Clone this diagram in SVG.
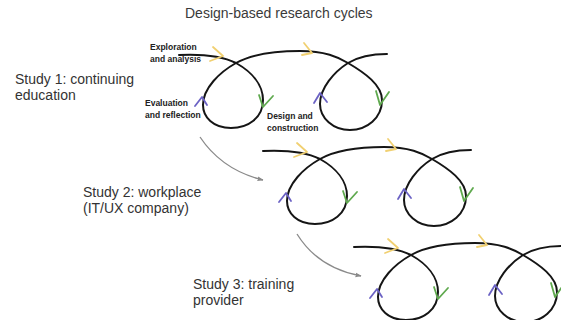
<svg xmlns="http://www.w3.org/2000/svg" xmlns:xlink="http://www.w3.org/1999/xlink" width="561" height="320" viewBox="0 0 561 320">
  <style>
    .title { font-family: "Liberation Sans", Arial, sans-serif; font-size: 14px; fill: #3a3a3a; }
    .study { font-family: "Liberation Sans", Arial, sans-serif; font-size: 14px; fill: #333; }
    .phase { font-family: "Liberation Sans", Arial, sans-serif; font-size: 8.5px; font-weight: bold; fill: #222; }
    .loop { fill: none; stroke: #151515; stroke-width: 2; stroke-linecap: round; stroke-linejoin: round; }
    .tick { fill: none; stroke-width: 1.8; stroke-linecap: round; stroke-linejoin: round; }
    .explore { stroke: #f1d071; }
    .design { stroke: #5fa94e; }
    .evaluate { stroke: #6b62c4; }
    .flow { fill: none; stroke: #8a8a8a; stroke-width: 1.3; }
  </style>
  <defs>
    <marker id="head" viewBox="0 0 10 10" refX="9" refY="5" markerWidth="6" markerHeight="6" orient="auto" markerUnits="userSpaceOnUse">
      <path d="M0,1 L10,5 L0,9 Z" fill="#8a8a8a"/>
    </marker>
    <!-- one research cycle strip: two loops with direction ticks -->
    <g id="cycles">
      <path class="loop" d="M179,55 C200,54 222,56 236,63 C252,72 263,85 263,100 C263,118 248,128 231,128 C213,128 203,117 203,105 C203,88 220,72 236,63 C252,54 272,51 300,51 C325,51 338,57 348,63 C365,73 382,85 382,100 C382,118 367,130 350,130 C333,130 320,118 320,104 C320,88 334,72 348,63 C358,57 372,54 387,54"/>
      <path class="tick explore" d="M213,47 L223,56 L210,61"/>
      <path class="tick explore" d="M304,43 L312,53 L302,55"/>
      <path class="tick design" d="M259,95 L263,107 L273,96"/>
      <path class="tick design" d="M376,91 L380,105 L389,92"/>
      <path class="tick evaluate" d="M195,106 L202,97 L207,105"/>
      <path class="tick evaluate" d="M314,103 L320,93 L327,102"/>
    </g>
  </defs>

  <text class="title" x="185" y="18">Design-based research cycles</text>

  <g id="study1">
    <use xlink:href="#cycles" href="#cycles"/>
    <text class="study" x="15" y="84">Study 1: continuing</text>
    <text class="study" x="15" y="100">education</text>
    <text class="phase" x="150" y="50">Exploration</text>
    <text class="phase" x="150" y="62">and analysis</text>
    <text class="phase" x="145" y="106">Evaluation</text>
    <text class="phase" x="145" y="118">and reflection</text>
    <text class="phase" x="267" y="119">Design and</text>
    <text class="phase" x="267" y="131">construction</text>
  </g>

  <g id="study2">
    <use xlink:href="#cycles" href="#cycles" transform="translate(84,96)"/>
    <text class="study" x="83" y="197">Study 2: workplace</text>
    <text class="study" x="83" y="213">(IT/UX company)</text>
  </g>

  <g id="study3">
    <use xlink:href="#cycles" href="#cycles" transform="translate(175,192)"/>
    <text class="study" x="193" y="289">Study 3: training</text>
    <text class="study" x="193" y="305">provider</text>
  </g>

  <g id="connectors">
    <path class="flow" d="M200,137 Q222,170 263,180" marker-end="url(#head)"/>
    <path class="flow" d="M297,234 Q318,268 361,276" marker-end="url(#head)"/>
  </g>
</svg>
